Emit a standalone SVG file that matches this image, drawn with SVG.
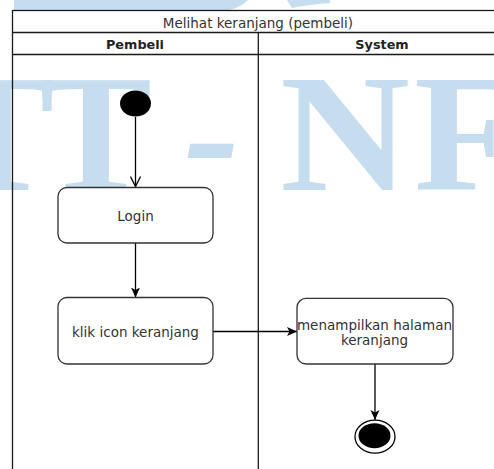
<svg xmlns="http://www.w3.org/2000/svg" width="494" height="469" viewBox="0 0 494 469">
<style>
.wm{fill:#c6dcef;font-family:"Liberation Serif","Times New Roman",serif;font-weight:bold;font-size:168px}
.frame{fill:none;stroke:#1a1a1a;stroke-width:1.3}
.t{font-family:"DejaVu Sans",Verdana,sans-serif;font-size:13.5px;fill:#333;text-anchor:middle}
.h{font-family:"DejaVu Sans",Verdana,sans-serif;font-size:12.8px;font-weight:bold;fill:#222;text-anchor:middle}
.box{fill:#fff;stroke:#333;stroke-width:1.3}
.edge{fill:none;stroke:#000;stroke-width:1.3}
</style>
<defs>
<marker id="arrFill" viewBox="0 0 10 10" refX="10" refY="5" markerWidth="10" markerHeight="10" markerUnits="userSpaceOnUse" orient="auto">
<path d="M0,0.5 L10,5 L0,9.5 L2.5,5 Z" fill="#000"/>
</marker>
<marker id="arrOpen" viewBox="-1 -1 12 12" refX="10" refY="5" markerWidth="12" markerHeight="12" markerUnits="userSpaceOnUse" orient="auto">
<path d="M0,0 L10,5 L0,10" fill="none" stroke="#000" stroke-width="1.3"/>
</marker>
</defs>

<g id="watermark">
<path d="M14,0 L248,0 Q240,8 228,10 L14,10 Z" fill="#c6dcef"/>
<path d="M287,0 L330,0 L330,3 Q305,5 292,8 Z" fill="#c6dcef"/>
<text class="wm" x="-58" y="190">T</text>
<text class="wm" x="40" y="190">T</text>
<text class="wm" x="184" y="190" font-style="italic">-</text>
<text class="wm" x="280" y="190" textLength="130" lengthAdjust="spacingAndGlyphs">N</text>
<text class="wm" x="414" y="190">F</text>
</g>

<g id="pool">
<rect class="frame" x="12.5" y="10.5" width="500" height="470"/>
<line class="frame" x1="12.5" y1="32.5" x2="513" y2="32.5"/>
<line class="frame" x1="12.5" y1="54.5" x2="513" y2="54.5"/>
<line class="frame" x1="258.3" y1="32.5" x2="258.3" y2="480"/>
<text class="t" x="258" y="27.5">Melihat keranjang (pembeli)</text>
</g>
<g id="lane-pembeli"><text class="h" x="135" y="48.5">Pembeli</text></g>
<g id="lane-system"><text class="h" x="382" y="48.5">System</text></g>

<g id="connectors">
<path class="edge" d="M135.5,117 L135.5,186.5" marker-end="url(#arrOpen)"/>
<path class="edge" d="M135.5,243 L135.5,297.5" marker-end="url(#arrFill)"/>
<path class="edge" d="M213,331.5 L297,331.5" marker-end="url(#arrFill)"/>
<path class="edge" d="M375,364 L375,420" marker-end="url(#arrFill)"/>
</g>

<g id="start"><ellipse cx="135.5" cy="103.5" rx="15.5" ry="13" fill="#000"/></g>
<g id="login">
<rect class="box" x="58" y="187.5" width="155" height="55.5" rx="9"/>
<text class="t" x="135.5" y="220.5">Login</text>
</g>
<g id="klik">
<rect class="box" x="58" y="297.5" width="155" height="66.5" rx="9"/>
<text class="t" x="135.5" y="336.5">klik icon keranjang</text>
</g>
<g id="tampil">
<rect class="box" x="297" y="298.3" width="156" height="65.7" rx="9"/>
<text class="t" x="374.5" y="330">menampilkan halaman</text>
<text class="t" x="374.5" y="344.5">keranjang</text>
</g>
<g id="end">
<ellipse cx="375" cy="436.7" rx="20" ry="16.5" fill="#fff" stroke="#000" stroke-width="1.3"/>
<ellipse cx="374.5" cy="435.7" rx="16" ry="12.5" fill="#000"/>
</g>
</svg>
